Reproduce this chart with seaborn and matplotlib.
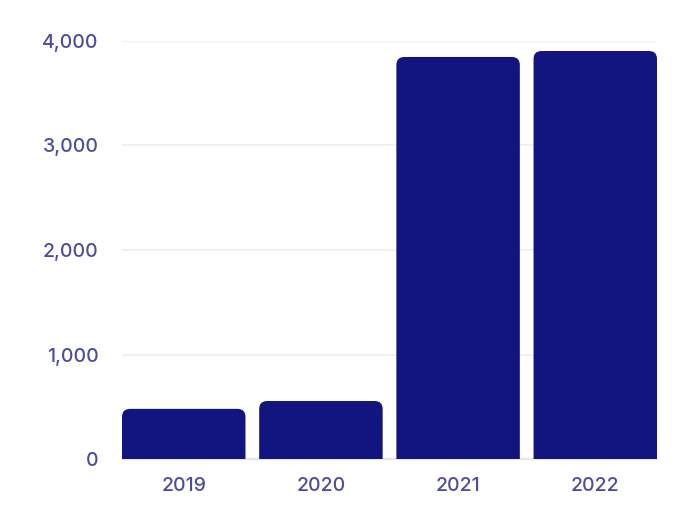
import matplotlib
matplotlib.use("Agg")
import matplotlib.pyplot as plt
from matplotlib.patches import FancyBboxPatch
from matplotlib.ticker import FuncFormatter
import seaborn as sns
import pandas as pd

years = ["2019", "2020", "2021", "2022"]
values = [480, 555, 3847, 3904]

bar_color = "#12157f"
text_color = "#4b4c9c"

sns.set_style("white")
plt.rcParams["font.family"] = ["Inter", "DejaVu Sans"]

df = pd.DataFrame({"year": years, "value": values})

fig = plt.figure(figsize=(7, 5.24), dpi=100)
ax = fig.add_axes([0.1743, 0.124, 0.7643, 0.7978])
sns.barplot(data=df, x="year", y="value", color=bar_color, width=0.9,
            saturation=1, ax=ax, zorder=3)

ax.set_xlim(-0.45, 3.45)
ax.set_ylim(0, 4000)

# swap plain bars for ones with rounded corners (bottom gets clipped at 0)
px_x = (ax.get_xlim()[1] - ax.get_xlim()[0]) / (0.7643 * 700)
px_y = 4000 / (0.7978 * 524)
r = 8 * px_x
for p in list(ax.patches):
    x0, w, h = p.get_x(), p.get_width(), p.get_height()
    p.remove()
    ax.add_patch(FancyBboxPatch((x0, -300), w, h + 300,
                                boxstyle=f"round,pad=0,rounding_size={r}",
                                mutation_aspect=px_y / px_x,
                                facecolor=bar_color, edgecolor="none", zorder=3))

ax.set_yticks([0, 1000, 2000, 3000, 4000])
ax.yaxis.set_major_formatter(FuncFormatter(lambda v, _: f"{int(v):,}"))
ax.grid(axis="y", color="#f0f0f5", linewidth=1.5, zorder=0)
ax.grid(axis="x", visible=False)
for s in ["left", "right", "top"]:
    ax.spines[s].set_visible(False)
ax.spines["bottom"].set_color("#e6e6f0")
ax.spines["bottom"].set_linewidth(1.5)
ax.tick_params(axis="both", length=0, colors=text_color, labelsize=14)
ax.tick_params(axis="y", pad=17)
ax.tick_params(axis="x", pad=13)
for lbl in ax.get_xticklabels() + ax.get_yticklabels():
    lbl.set_fontweight("medium")
ax.set_xlabel("")
ax.set_ylabel("")

fig.savefig("out.png", dpi=100)
